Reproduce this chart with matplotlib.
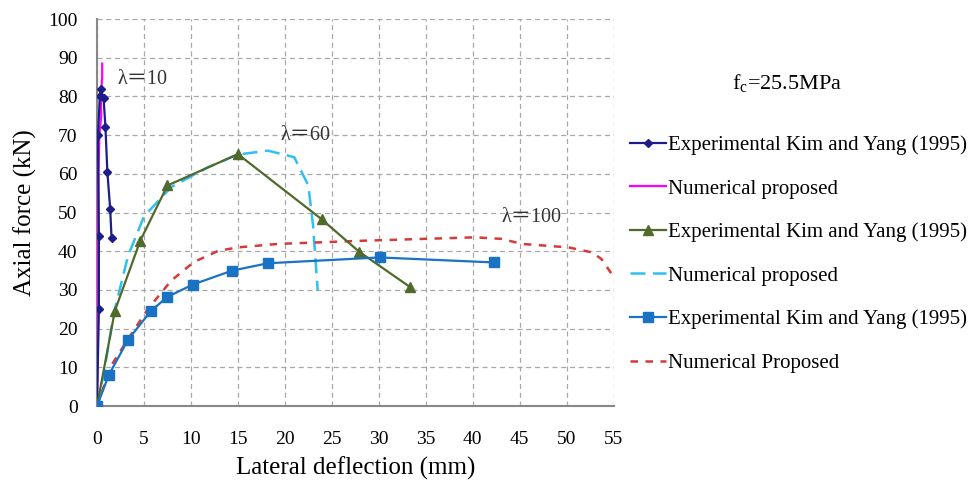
import matplotlib.pyplot as plt

plt.rcParams['font.family'] = ['Liberation Serif', 'Noto Sans CJK JP']
plt.rcParams['mathtext.fontset'] = 'custom'
plt.rcParams['mathtext.rm'] = 'Liberation Serif'

# lambda = 10
x_exp10 = [0, 0.2, 0.2, 0.1, 0.3, 0.4, 0.7, 0.9, 1.1, 1.4, 1.55]
y_exp10 = [0, 25, 44, 70, 80, 82, 79.5, 72, 60.6, 51, 43.4]
x_num10 = [0, 0.1, 0.15, 0.25, 0.45, 0.4, 0.55, 0.55]
y_num10 = [0, 30, 60, 70, 75, 80, 85, 88.5]

# lambda = 60
x_exp60 = [0, 1.9, 4.6, 7.5, 15.0, 23.9, 27.9, 33.3]
y_exp60 = [0, 24.6, 42.7, 57, 65.1, 48.3, 39.9, 30.8]
x_num60 = [0, 0.75, 1.8, 3.3, 5.0, 7.9, 11.8, 15.0, 18.2, 21.0, 22.5, 23.0, 23.5]
y_num60 = [0, 8.8, 24, 38.8, 49, 56.6, 61.7, 65, 66, 64.3, 57, 46.6, 29.8]

# lambda = 100
x_exp100 = [0, 1.25, 3.3, 5.75, 7.5, 10.2, 14.4, 18.2, 30.1, 42.3]
y_exp100 = [0, 8, 17.1, 24.6, 28.2, 31.4, 35, 36.9, 38.4, 37.1]
x_num100 = [0, 1.5, 3.3, 5.4, 7.9, 10.3, 12.9, 15.0, 19.3, 28.1, 40.2, 43.1, 45.2, 50.2, 52.7, 53.7, 54.8]
y_num100 = [0, 10.4, 17.3, 25, 32.4, 37.2, 40.1, 41, 41.9, 42.7, 43.6, 43.2, 41.9, 41, 39.7, 38, 34.1]

x_ticks = list(range(0, 56, 5))
y_ticks = list(range(0, 101, 10))

fig = plt.figure(figsize=(9.74, 4.9), dpi=100)
ax = fig.add_axes([0.0996, 0.1714, 0.5304, 0.7896])

ax.plot(x_exp10, y_exp10, color='#1c1c8a', lw=1.6, marker='D', ms=4,
        label='Experimental Kim and Yang (1995)', zorder=4)
ax.plot(x_num10, y_num10, color='#ff00ff', lw=1.6,
        label='Numerical proposed', zorder=3)
ax.plot(x_exp60, y_exp60, color='#4f6a2a', lw=1.6, marker='^', ms=7,
        label='Experimental Kim and Yang (1995)', zorder=4)
ax.plot(x_num60, y_num60, color='#2ec0f0', lw=1.8, ls=(0, (6, 3)),
        label='Numerical proposed', zorder=3)
ax.plot(x_exp100, y_exp100, color='#1a72c4', lw=1.6, marker='s', ms=7,
        label='Experimental Kim and Yang (1995)', zorder=4)
ax.plot(x_num100, y_num100, color='#d43a3a', lw=1.8, ls=(0, (3, 3)),
        label='Numerical Proposed', zorder=3)

ax.set_xlim(0, 55)
ax.set_ylim(0, 100)
ax.set_xticks(x_ticks)
ax.set_yticks(y_ticks)
ax.tick_params(length=0, labelsize=14)
ax.tick_params(axis='x', pad=18)
ax.tick_params(axis='y', pad=14)
ax.grid(True, color='#a8a8a8', ls=(0, (4, 3)), lw=0.9)
for s in ['top', 'right']:
    ax.spines[s].set_visible(False)
for s in ['left', 'bottom']:
    ax.spines[s].set_color('#888888')
    ax.spines[s].set_linewidth(1.5)

ax.set_xlabel('Lateral deflection (mm)', fontsize=18, labelpad=6)
ax.set_ylabel('Axial force (kN)', fontsize=18, labelpad=8)

ax.text(2.2, 84.5, 'λ＝10', fontsize=14.5, va='center', color='#333333')
ax.text(19.5, 69.8, 'λ＝60', fontsize=14.5, va='center', color='#333333')
ax.text(43.1, 48.8, 'λ＝100', fontsize=14.5, va='center', color='#333333')

fig.text(0.808, 0.83, r'f$_\mathregular{c}$=25.5MPa', fontsize=16, ha='center', va='center')

fig.legend(loc='upper left', bbox_to_anchor=(0.647, 0.724), frameon=False,
           fontsize=15, handlelength=1.7, handletextpad=0.1, labelspacing=1.15,
           borderaxespad=0, borderpad=0)

fig.savefig('out.png', dpi=100)
